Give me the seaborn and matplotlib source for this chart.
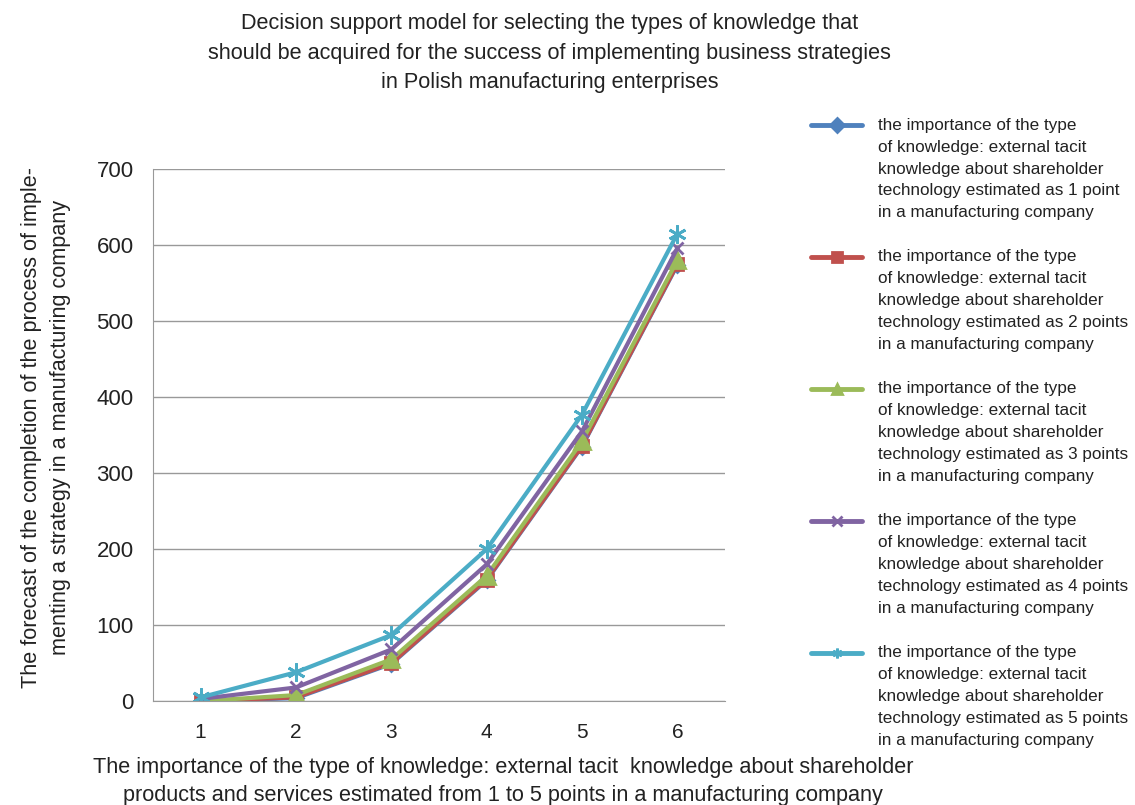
import pandas as pd
import matplotlib
matplotlib.use("Agg")
import matplotlib.pyplot as plt
from matplotlib.legend_handler import HandlerLine2D
import seaborn as sns

x_vals = [1, 2, 3, 4, 5, 6]
s1 = [0, 4, 49, 159, 335, 574]
s2 = [0, 5, 50, 160, 336, 575]
s3 = [0, 8, 55, 165, 342, 580]
s4 = [3, 18, 68, 180, 355, 596]
s5 = [5, 38, 87, 200, 377, 615]

labels = [
    "the importance of the type\nof knowledge: external tacit\nknowledge about shareholder\ntechnology estimated as 1 point\nin a manufacturing company",
    "the importance of the type\nof knowledge: external tacit\nknowledge about shareholder\ntechnology estimated as 2 points\nin a manufacturing company",
    "the importance of the type\nof knowledge: external tacit\nknowledge about shareholder\ntechnology estimated as 3 points\nin a manufacturing company",
    "the importance of the type\nof knowledge: external tacit\nknowledge about shareholder\ntechnology estimated as 4 points\nin a manufacturing company",
    "the importance of the type\nof knowledge: external tacit\nknowledge about shareholder\ntechnology estimated as 5 points\nin a manufacturing company",
]
colors = ["#4F81BD", "#C0504D", "#9BBB59", "#8064A2", "#4BACC6"]
markers = ["D", "s", "^", "x", (6, 2, 0)]
msizes = [7, 9, 11, 9, 13]

LEG_FS = 12.3


# legend handle sits at the first text line, like the Excel original
class TopLineHandler(HandlerLine2D):
    def create_artists(self, legend, orig_handle, xdescent, ydescent, width, height, fontsize, trans):
        arts = super().create_artists(legend, orig_handle, xdescent, ydescent, width, height, fontsize, trans)
        for a in arts:
            a.set_ydata([y + 31.5 for y in a.get_ydata()])
        return arts


sns.set_style("white")
plt.rcParams['font.family'] = ['Liberation Sans', 'DejaVu Sans']

fig = plt.figure(figsize=(11.35, 8.05), dpi=100)
ax = fig.add_axes([0.1348, 0.129, 0.504, 0.661])

for vals, lab, c, m, ms in zip([s1, s2, s3, s4, s5], labels, colors, markers, msizes):
    df = pd.DataFrame({"x": x_vals, "y": vals})
    sns.lineplot(data=df, x="x", y="y", ax=ax, color=c, linewidth=3, marker=m,
                 markersize=ms, markeredgewidth=2, markeredgecolor=c, label=lab)

ax.set_xlim(0.5, 6.5)
ax.set_ylim(0, 700)
ax.set_yticks(range(0, 701, 100))
ax.set_xticks(x_vals)
ax.set_xticks([i + 0.5 for i in range(0, 7)], minor=True)
ax.tick_params(axis='x', which='major', length=0, labelsize=15, pad=16, labelcolor='#222222')
ax.tick_params(axis='x', which='minor', length=6, color='#999999', width=1)
ax.tick_params(axis='y', length=6, color='#999999', labelsize=16, pad=8, labelcolor='#222222')
ax.yaxis.grid(True, color='#999999', linewidth=1)
ax.set_axisbelow(True)
for sp in ['top', 'right']:
    ax.spines[sp].set_visible(False)
for sp in ['left', 'bottom']:
    ax.spines[sp].set_color('#999999')
ax.set_xlabel("")
ax.set_ylabel("The forecast of the completion of the process of imple-\nmenting a strategy in a manufacturing company",
              fontsize=15.6, color='#222222', labelpad=18, linespacing=1.55)
ax.yaxis.label.set_y(0.515)

fig.text(0.443, -0.001, "The importance of the type of knowledge: external tacit  knowledge about shareholder\nproducts and services estimated from 1 to 5 points in a manufacturing company",
         ha='center', va='bottom', fontsize=15.6, color='#222222', linespacing=1.4)
fig.text(0.484, 0.984, "Decision support model for selecting the types of knowledge that\nshould be acquired for the success of implementing business strategies\nin Polish manufacturing enterprises",
         ha='center', va='top', fontsize=15.6, color='#222222', linespacing=1.55)

leg = ax.legend(loc='upper left', bbox_to_anchor=(0.701, 0.873), bbox_transform=fig.transFigure,
                frameon=False, fontsize=LEG_FS, handlelength=3.0, handletextpad=0.92, labelspacing=1.7,
                handler_map={matplotlib.lines.Line2D: TopLineHandler()})
for line in leg.get_lines():
    line.set_linewidth(3.5)
    line.set_markersize(7)
for t in leg.get_texts():
    t.set_color('#222222')
    t.set_linespacing(1.58)

fig.savefig("out.png", dpi=100)
